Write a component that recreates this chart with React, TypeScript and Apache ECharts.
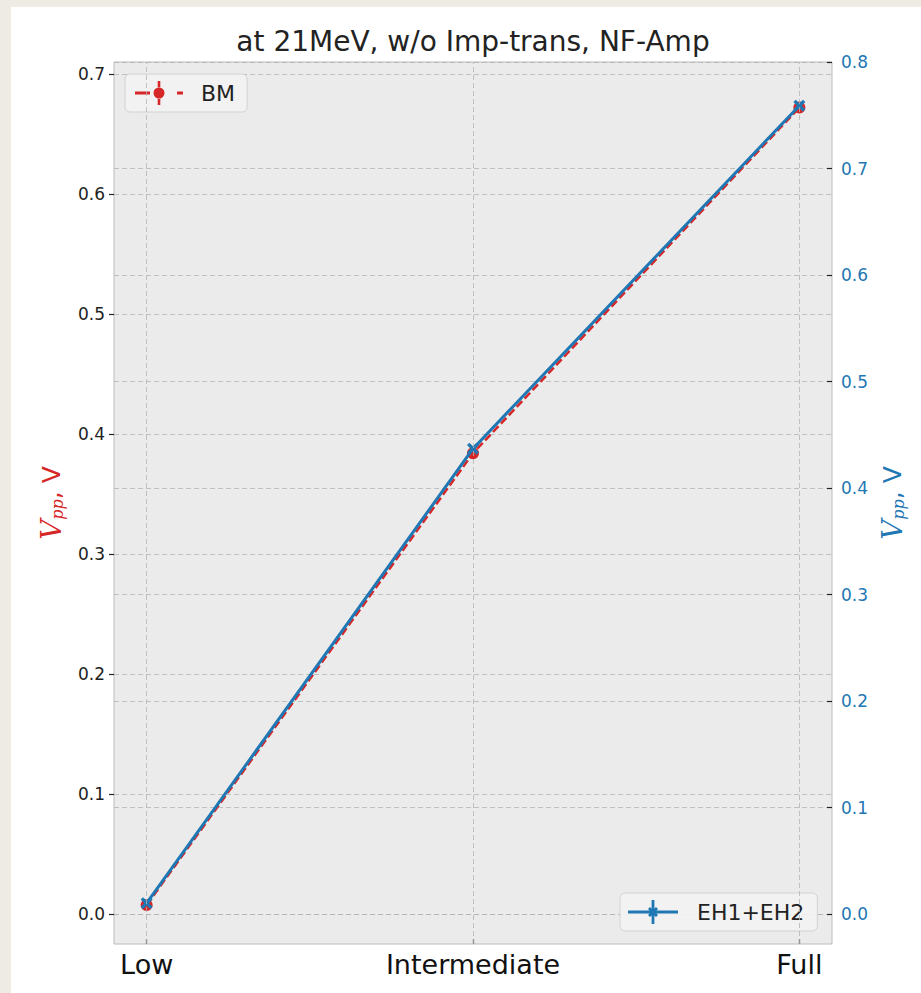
import React, { useEffect, useRef } from "react";
import * as echarts from "echarts";

const categories = ["Low", "Intermediate", "Full"];
const bmValues = [0.0075, 0.384, 0.672];
const ehValues = [0.0103, 0.437, 0.759];
const leftTicks = [0, 0.1, 0.2, 0.3, 0.4, 0.5, 0.6, 0.7];
const rightTicks = [0, 0.1, 0.2, 0.3, 0.4, 0.5, 0.6, 0.7, 0.8];
const titleText = "at 21MeV, w/o Imp-trans, NF-Amp";

const FONT = "DejaVu Sans";
const RED = "#d62728";
const BLUE = "#1f77b4";
const GRIDC = "#b4b4b4";

const bmIcon =
  "path://M0,10.6 H15 V13.4 H0 Z M42,10.6 H48 V13.4 H42 Z M22.7,0 H25.3 V7 H22.7 Z M22.7,17 H25.3 V24 H22.7 Z M18.5,12 A5.5,5.5 0 1,0 29.5,12 A5.5,5.5 0 1,0 18.5,12 Z";
const ehIcon =
  "path://M0,10.5 H50 V13.5 H0 Z M23.6,0 H26.4 V24 H23.6 Z M20,9 L22,7 L25,10 L28,7 L30,9 L27,12 L30,15 L28,17 L25,14 L22,17 L20,15 L23,12 Z";
const xMarker =
  "path://M0,2 L2,0 L5,3 L8,0 L10,2 L7,5 L10,8 L8,10 L5,7 L2,10 L0,8 L3,5 Z";

const nameRich = (color: string) => ({
  v: { fontFamily: "DejaVu Serif", fontStyle: "italic", fontSize: 28, color },
  s: {
    fontFamily: "DejaVu Serif",
    fontStyle: "italic",
    fontSize: 16,
    color,
    verticalAlign: "bottom",
    padding: [10, 0, 0, 0],
  },
  n: { fontFamily: FONT, fontSize: 25, color },
});

export default function App() {
  const ref = useRef<HTMLDivElement>(null);
  useEffect(() => {
    if (!ref.current) return;
    const chart = echarts.init(ref.current, null, { renderer: "svg" });
    const bmData = categories.map((_, i) => [i, bmValues[i]]);
    const ehData = categories.map((_, i) => [i, ehValues[i]]);
    chart.setOption({
      animation: false,
      textStyle: { fontFamily: FONT },
      graphic: [
        {
          type: "text",
          x: 473,
          y: 41,
          style: {
            text: titleText,
            fontFamily: FONT,
            fontSize: 28,
            fill: "#222",
            textAlign: "center",
            textVerticalAlign: "middle",
          },
        },
      ],
      grid: {
        left: 114,
        top: 62,
        width: 718,
        height: 882,
        show: true,
        backgroundColor: "#ebebeb",
        borderColor: "#bcbcbc",
        borderWidth: 1,
      },
      legend: [
        {
          data: [{ name: "BM", icon: bmIcon }],
          left: 125,
          top: 74,
          itemWidth: 48,
          itemHeight: 24,
          padding: [7, 12, 7, 10],
          backgroundColor: "rgba(243,243,243,0.9)",
          borderColor: "#d2d2d2",
          borderWidth: 1,
          borderRadius: 5,
          selectedMode: false,
          textStyle: { fontFamily: FONT, fontSize: 22, color: "#222", padding: [0, 0, 0, 13] },
        },
        {
          data: [{ name: "EH1+EH2", icon: ehIcon }],
          left: 620,
          top: 893,
          itemWidth: 50,
          itemHeight: 24,
          padding: [7, 13, 7, 8],
          backgroundColor: "rgba(243,243,243,0.9)",
          borderColor: "#d2d2d2",
          borderWidth: 1,
          borderRadius: 5,
          selectedMode: false,
          textStyle: { fontFamily: FONT, fontSize: 22, color: "#222", padding: [0, 0, 0, 14] },
        },
      ],
      xAxis: {
        type: "value",
        min: -0.1,
        max: 2.1,
        axisLine: { show: false, onZero: false },
        splitLine: { show: false },
        axisTick: {
          show: true,
          inside: true,
          length: 5,
          customValues: [0, 1, 2],
          lineStyle: { color: "#222", width: 1.2 },
        },
        axisLabel: {
          customValues: [0, 1, 2],
          formatter: (v: number) => categories[Math.round(v)] ?? "",
          fontFamily: FONT,
          fontSize: 27,
          color: "#111",
          margin: 7,
        },
      },
      yAxis: [
        {
          type: "value",
          position: "left",
          min: -0.025,
          max: 0.71,
          axisLine: { show: false, onZero: false },
          axisTick: {
            show: true,
            length: 5,
            customValues: leftTicks,
            lineStyle: { color: "#222", width: 1.2 },
          },
          axisLabel: {
            customValues: leftTicks,
            formatter: (v: number) => v.toFixed(1),
            fontFamily: FONT,
            fontSize: 17,
            color: "#222",
            margin: 9,
          },
          splitLine: { show: true, lineStyle: { color: GRIDC, type: [5, 3], width: 0.8 } },
          name: "{v|V}{s|pp}{n|, V}",
          nameLocation: "middle",
          nameGap: 49,
          nameRotate: 90,
          nameTextStyle: { rich: nameRich(RED) },
        },
        {
          type: "value",
          position: "right",
          min: -0.028,
          max: 0.8,
          axisLine: { show: false, onZero: false },
          axisTick: {
            show: true,
            inside: true,
            length: 5,
            customValues: rightTicks,
            lineStyle: { color: "#222", width: 1.2 },
          },
          axisLabel: {
            customValues: rightTicks,
            formatter: (v: number) => v.toFixed(1),
            fontFamily: FONT,
            fontSize: 17,
            color: BLUE,
            margin: 9,
          },
          splitLine: { show: true, lineStyle: { color: GRIDC, type: [5, 3], width: 0.8 } },
          name: "{v|V}{s|pp}{n|, V}",
          nameLocation: "middle",
          nameGap: 46,
          nameRotate: 90,
          nameTextStyle: { rich: nameRich(BLUE) },
        },
      ],
      series: [
        {
          name: "vgrid",
          type: "line",
          data: [],
          z: 1,
          silent: true,
          markLine: {
            silent: true,
            symbol: "none",
            label: { show: false },
            lineStyle: { color: GRIDC, type: [5, 3], width: 0.8 },
            data: categories.map((_, i) => ({ xAxis: i })),
          },
        },
        {
          name: "BM",
          type: "line",
          yAxisIndex: 0,
          data: bmData,
          z: 3,
          color: RED,
          lineStyle: { color: RED, width: 2.5, type: [8, 3.5] },
          symbol: "circle",
          symbolSize: 12,
          itemStyle: { color: RED },
        },
        {
          name: "EH1+EH2",
          type: "line",
          yAxisIndex: 1,
          data: ehData,
          z: 4,
          color: BLUE,
          lineStyle: { color: BLUE, width: 3 },
          symbol: xMarker,
          symbolSize: 12,
          itemStyle: { color: BLUE },
        },
      ],
    });
    return () => chart.dispose();
  }, []);

  return (
    <div style={{ position: "absolute", left: 0, top: 0, width: 921, height: 993, background: "#eeebe4" }}>
      <div style={{ position: "absolute", left: 11, top: 7, right: 0, bottom: 0, background: "#ffffff" }} />
      <div ref={ref} style={{ position: "absolute", left: 0, top: 0, width: 921, height: 993 }} />
    </div>
  );
}
